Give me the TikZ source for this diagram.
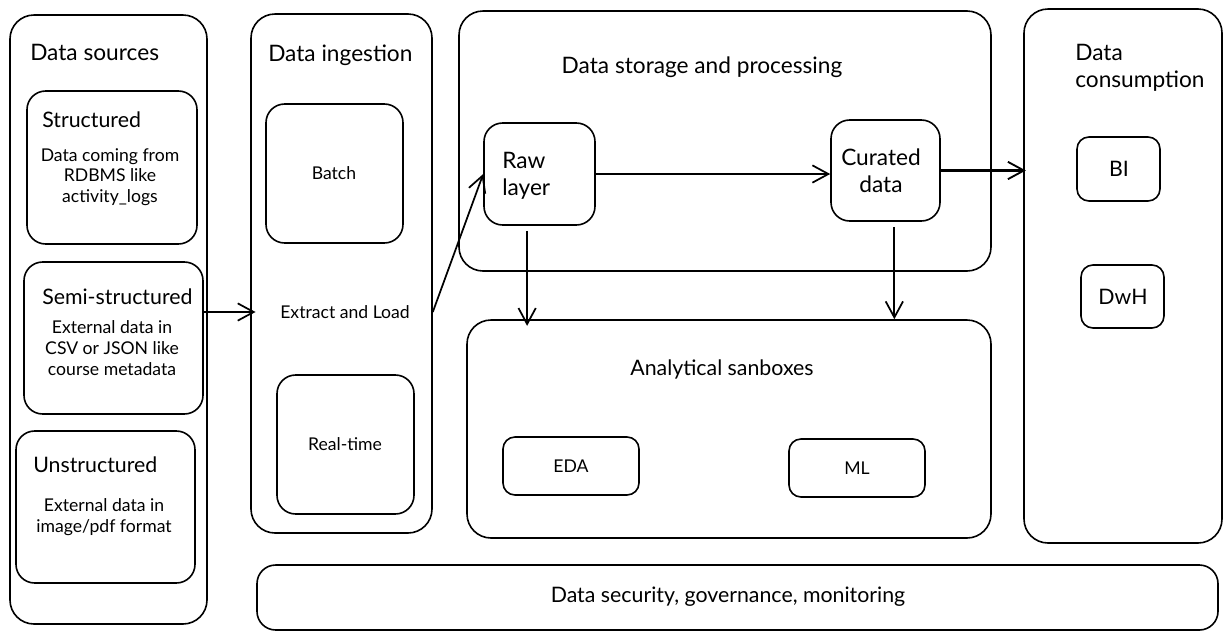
\documentclass[tikz,border=0pt]{standalone}
\usepackage{fontspec}
\setmainfont{Lato}
\usetikzlibrary{arrows.meta,fit,calc}
\begin{document}
\begin{tikzpicture}[x=0.75pt,y=-0.75pt,
  bigbox/.style={draw, line width=1.2pt, rounded corners=18pt, inner sep=0pt},
  midbox/.style={draw, line width=1.2pt, rounded corners=14pt, inner sep=0pt},
  smallbox/.style={draw, line width=1.2pt, rounded corners=9pt, inner sep=0pt},
  ttl/.style={font=\fontsize{17}{20}\selectfont, inner sep=0pt},
  sub/.style={font=\fontsize{16}{19}\selectfont, inner sep=0pt},
  txt/.style={font=\fontsize{13.2}{15.5}\selectfont, inner sep=0pt, align=center},
  arr/.style={line width=1.3pt, -{Straight Barb[length=12pt,width=13pt,line width=1.3pt]}},
  thickarr/.style={line width=2pt, -{Straight Barb[length=12pt,width=13pt,line width=1.4pt]}}]
\useasboundingbox (0,0) rectangle (1231,640);

% Data sources
\node[bigbox, fit={(10,15) (207,624)}] (src) {};
\node[ttl, anchor=west] (srcT) at (30,52) {Data sources};
\node[midbox, fit={(27,91) (197,244)}] (str) {};
\node[sub, anchor=west] (strT) at (42,120) {Structured};
\node[txt] (strX) at (110,177) {Data coming from\\RDBMS like\\activity\_logs};
\node[midbox, fit={(24,262) (203,414)}] (semi) {};
\node[sub, anchor=west] (semiT) at (42,297) {Semi-structured};
\node[txt] (semiX) at (112,348) {External data in\\CSV or JSON like\\course metadata};
\node[midbox, fit={(16,431) (195,583)}] (uns) {};
\node[sub, anchor=west] (unsT) at (33,465) {Unstructured};
\node[txt] (unsX) at (104,517) {External data in\\image/pdf format};

% Data ingestion
\node[bigbox, fit={(251,14) (432,533)}] (ing) {};
\node[ttl, anchor=west] (ingT) at (268,55) {Data ingestion};
\node[midbox, fit={(266,104) (403,243)}] (batch) {};
\node[txt] (batchT) at (334,173) {Batch};
\node[txt] (el) at (345,312) {Extract and Load};
\node[midbox, fit={(277,375) (414,514)}] (rt) {};
\node[txt] (rtT) at (345,444) {Real-time};

% Data storage and processing
\node[bigbox, fit={(459,11) (991,271)}] (stor) {};
\node[ttl] (storT) at (702,67) {Data storage and processing};
\node[midbox, fit={(484,123) (595,225)}] (raw) {};
\node[ttl, anchor=west, align=left] (rawT) at (502,176) {Raw\\layer};
\node[midbox, fit={(831,120) (940,221)}] (cur) {};
\node[ttl, align=center] (curT) at (881,171) {Curated\\data};

% Analytical sandboxes
\node[bigbox, fit={(467,320) (991,538)}] (ana) {};
\node[sub] (anaT) at (722,369) {Analytical sanboxes};
\node[smallbox, fit={(503,437) (639,495)}] (eda) {};
\node[txt] (edaT) at (571,466) {EDA};
\node[smallbox, fit={(789,439) (925,497)}] (ml) {};
\node[txt] (mlT) at (857,468) {ML};

% Data consumption
\node[bigbox, fit={(1024,9) (1222,543)}] (cons) {};
\node[ttl, anchor=west, align=left] (consT) at (1075,68) {Data\\consumption};
\node[smallbox, fit={(1077,137) (1160,201)}] (bi) {};
\node[sub] (biT) at (1119,169) {BI};
\node[smallbox, fit={(1081,265) (1164,328)}] (dwh) {};
\node[sub] (dwhT) at (1123,297) {DwH};

% Security
\node[midbox, fit={(257,565) (1218,630)}] (sec) {};
\node[sub] (secT) at (728,597) {Data security, governance, monitoring};

% Connectors
\draw[arr] (semi.east |- el) -- ([xshift=4pt]ing.west |- el);
\draw[arr] (ing.east |- el) -- (raw.west);
\draw[arr] (raw.east) -- (raw.east -| cur.west);
\draw[thickarr] (cur.east) -- ([xshift=2pt]cur.east -| cons.west);
\draw[arr] ($(raw.south west)!0.39!(raw.south east)+(0,5)$) coordinate (rd)
  -- ([yshift=-5pt]rd |- ana.north);
\draw[arr] ($(cur.south west)!0.58!(cur.south east)+(0,5)$) coordinate (cd)
  -- (cd |- ana.north);
\end{tikzpicture}
\end{document}
